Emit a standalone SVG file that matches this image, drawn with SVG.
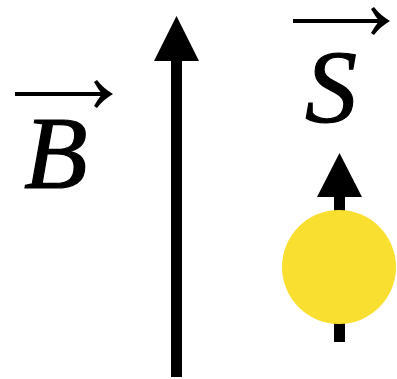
<svg xmlns="http://www.w3.org/2000/svg" width="397" height="379" viewBox="0 0 397 379">
<defs>
<style>
.sym{font-family:"Liberation Serif","Times New Roman",serif;font-style:italic;font-size:104px;fill:#000;stroke:#000;stroke-width:1.2}
.vbar{stroke:#000;stroke-width:4;fill:none}
.hd{fill:#000}
</style>
<path id="vhead" class="hd" d="M0 0 Q-10 -6 -16 -14 L-19 -12 Q-15 -5 -11 0 Q-15 5 -19 12 L-16 14 Q-10 6 0 0 Z"/>
</defs>
<g id="label-B">
<line class="vbar" x1="15" y1="94" x2="106" y2="94"/>
<use href="#vhead" x="113" y="94"/>
<text class="sym" x="24" y="188">B</text>
</g>
<g id="label-S">
<line class="vbar" x1="293" y1="21" x2="383" y2="21"/>
<use href="#vhead" x="390" y="21"/>
<text class="sym" x="305" y="122">S</text>
</g>
<g id="field-arrow">
<rect x="171" y="59" width="11" height="318" fill="#000"/>
<polygon points="176.5,16 154,61 199,61" fill="#000"/>
</g>
<g id="spin">
<rect x="334" y="195" width="11" height="147" fill="#000"/>
<polygon points="339.5,153 317,197 362,197" fill="#000"/>
<circle cx="339" cy="267" r="57" fill="#F9DF30"/>
</g>
</svg>
